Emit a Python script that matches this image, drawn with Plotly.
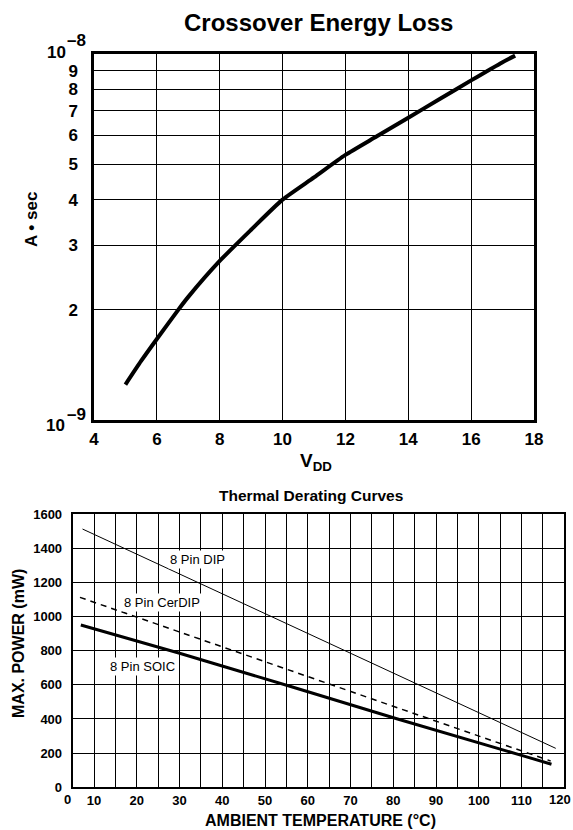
import plotly.graph_objects as go

# ---------------- data ----------------
# Crossover Energy Loss (A*sec) vs VDD
vdd = [5.0, 5.5, 6.0, 6.68, 7.0, 8.0, 9.0, 10.0, 11.0, 12.0, 13.0, 14.0, 15.0, 16.0, 17.0, 17.4]
energy_e9 = [1.25, 1.45, 1.665, 2.0, 2.17, 2.72, 3.31, 4.0, 4.6, 5.3, 5.96, 6.7, 7.53, 8.47, 9.5, 9.9]
energy = [v * 1e-9 for v in energy_e9]

top_xticks = [4, 6, 8, 10, 12, 14, 16, 18]
top_yticks = [2e-9, 3e-9, 4e-9, 5e-9, 6e-9, 7e-9, 8e-9, 9e-9]
top_yticktext = ["2", "3", "4", "5", "6", "7", "8", "9"]

# Thermal derating curves: max power (mW) vs ambient temperature (C)
temp_dip = [7.3, 118.0]
power_dip = [1512, 228]
temp_cerdip = [6.7, 116.8]
power_cerdip = [1112, 154]
temp_soic = [6.9, 30, 56, 81, 110, 117]
power_soic = [950, 785, 590, 400, 187, 135]

bot_xticks = [10, 20, 30, 40, 50, 60, 70, 80, 90, 100, 110]
bot_xminor = [15, 25, 35, 45, 55, 65, 75, 85, 95, 105, 115]
bot_yticks = [0, 200, 400, 600, 800, 1000, 1200, 1400, 1600]

# ---------------- figure ----------------
W, H = 573, 830
def px(x):
    return x / W
def py(y):
    return 1 - y / H

FONT = "Liberation Sans, Arial, sans-serif"

fig = go.Figure()

fig.add_trace(go.Scatter(x=vdd, y=energy, mode="lines", xaxis="x", yaxis="y",
                         line=dict(color="black", width=4, shape="spline", smoothing=0.6),
                         showlegend=False, hoverinfo="skip"))

fig.add_trace(go.Scatter(x=temp_dip, y=power_dip, mode="lines", xaxis="x2", yaxis="y2",
                         line=dict(color="black", width=1), showlegend=False))
fig.add_trace(go.Scatter(x=temp_cerdip, y=power_cerdip, mode="lines", xaxis="x2", yaxis="y2",
                         line=dict(color="black", width=1.5, dash="6px,5px"), showlegend=False))
fig.add_trace(go.Scatter(x=temp_soic, y=power_soic, mode="lines", xaxis="x2", yaxis="y2",
                         line=dict(color="black", width=3), showlegend=False))

axis_common = dict(showline=True, linecolor="black", mirror=True, showgrid=True,
                   gridcolor="black", gridwidth=1, zeroline=False, automargin=False,
                   ticks="outside", tickcolor="rgba(0,0,0,0)")

fig.update_layout(
    template="none",
    width=W, height=H,
    margin=dict(l=0, r=0, t=0, b=0, pad=0),
    paper_bgcolor="white", plot_bgcolor="white",
    font=dict(family=FONT, color="black"),
    xaxis=dict(axis_common, domain=[px(94), px(534)], anchor="y", range=[4, 18],
               tickvals=top_xticks, ticklen=2, linewidth=2.5,
               tickfont=dict(size=17, family=FONT, weight="bold")),
    yaxis=dict(axis_common, domain=[py(420), py(54)], anchor="x", type="log", range=[-9, -8],
               tickvals=top_yticks, ticktext=top_yticktext, ticklen=10, linewidth=2.5,
               tickfont=dict(size=17, family=FONT, weight="bold")),
    xaxis2=dict(axis_common, domain=[px(72.7), px(564.3)], anchor="y2", range=[5, 120],
                tickvals=bot_xticks, ticks="", linewidth=2,
                tickfont=dict(size=13, family=FONT, weight="bold"),
                minor=dict(tickvals=bot_xminor, showgrid=True, gridcolor="black", gridwidth=1,
                           ticks="")),
    yaxis2=dict(axis_common, domain=[py(787.3), py(514)], anchor="x2", range=[0, 1600],
                tickvals=bot_yticks, ticklen=6, linewidth=2,
                tickfont=dict(size=13, family=FONT, weight="bold")),
)

bold = dict(family=FONT, color="black", weight="bold")
ann = []
def text(t, x, y, size, angle=0):
    ann.append(dict(text=t, x=px(x), y=py(y), xref="paper", yref="paper",
                    xanchor="center", yanchor="middle", textangle=angle,
                    showarrow=False, font=dict(bold, size=size)))

# top chart texts
text("Crossover Energy Loss", 318, 23, 24)
text("10", 56, 52.5, 17)
text("\u20138", 76, 40.5, 17)
text("10", 55.5, 425, 17)
text("\u20139", 76, 414, 17)
text("A \u2022 sec", 32, 220, 17, angle=-90)
text("V<sub>DD</sub>", 316, 462, 19)
# bottom chart texts
text("Thermal Derating Curves", 311, 495.3, 15.5)
text("0", 67.6, 799.5, 13)
text("120", 559.5, 799.5, 13)
text("MAX. POWER (mW)", 18, 644, 16, angle=-90)
text("AMBIENT TEMPERATURE (\u00b0C)", 320, 820, 16)
for txt, xv, yv in [("8 Pin DIP", 34.2, 1335), ("8 Pin CerDIP", 25.8, 1082), ("8 Pin SOIC", 21.3, 706)]:
    ann.append(dict(text=txt, x=xv, y=yv, xref="x2", yref="y2", showarrow=False,
                    xanchor="center", yanchor="middle",
                    bgcolor="white", borderpad=1,
                    font=dict(family=FONT, color="black", size=13)))
fig.update_layout(annotations=ann)

fig.write_html("out.html", config={"displayModeBar": False},
               post_script="document.body.style.margin='0';")
